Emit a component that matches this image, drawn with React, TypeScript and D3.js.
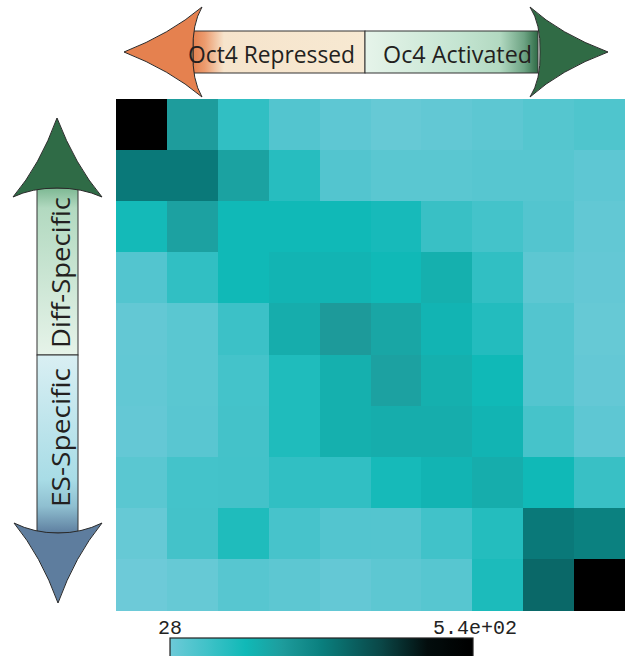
import React from "react";
import * as d3 from "d3";

// Heatmap of co-occupancy counts: rows run from Diff-specific (top) to ES-specific (bottom),
// columns from Oct4-repressed (left) to Oct4-activated (right).
const rowLabels = ["r0", "r1", "r2", "r3", "r4", "r5", "r6", "r7", "r8", "r9"];
const colLabels = ["c0", "c1", "c2", "c3", "c4", "c5", "c6", "c7", "c8", "c9"];

const values: number[][] = [
  [540, 217, 110, 64, 48, 38, 43, 50, 61, 69],
  [294, 294, 205, 125, 64, 54, 54, 58, 58, 48],
  [151, 207, 156, 156, 156, 146, 100, 84, 64, 43],
  [64, 110, 156, 166, 166, 156, 176, 110, 50, 40],
  [42, 54, 95, 182, 222, 197, 166, 130, 64, 38],
  [43, 54, 84, 136, 176, 207, 176, 156, 64, 40],
  [40, 56, 85, 136, 176, 182, 182, 166, 82, 48],
  [54, 84, 86, 110, 110, 148, 166, 182, 156, 100],
  [38, 85, 136, 80, 64, 62, 88, 128, 294, 280],
  [28, 38, 58, 50, 40, 50, 58, 140, 325, 540],
];

const colorMin = 28;
const colorMax = 540;
const colorMinLabel = "28";
const colorMaxLabel = "5.4e+02";

const topLeftLabel = "Oct4 Repressed";
const topRightLabel = "Oc4 Activated";
const sideTopLabel = "Diff-Specific";
const sideBottomLabel = "ES-Specific";

const W = 625;
const H = 656;

const grid = { x0: 116, x1: 625, y0: 99, y1: 610 };

export default function App() {
  const x = d3.scaleBand<string>().domain(colLabels).range([grid.x0, grid.x1]);
  const y = d3.scaleBand<string>().domain(rowLabels).range([grid.y0, grid.y1]);

  const t = (f: number) => colorMin + f * (colorMax - colorMin);
  const color = d3
    .scaleLinear<string>()
    .domain([t(0), t(0.25), t(0.37), t(0.5), t(0.7), t(0.85), t(1)])
    .range(["#6dcad8", "#10b9b7", "#1e9c9c", "#0a7f7e", "#0a4646", "#030d0d", "#000000"])
    .interpolate(d3.interpolateRgb)
    .clamp(true);

  const bar = { x0: 170, x1: 473, y0: 638, y1: 662 };
  const barStops = d3.range(0, 1.0001, 0.025).map((f) => ({
    offset: `${f * 100}%`,
    color: color(t(f)),
  }));

  // arrowhead paths (barbed, with concave sides)
  const leftHead = "M124,52 Q170,34 202,7 Q192,24 193,52 Q192,80 202,97 Q170,70 124,52 Z";
  const rightHead = "M608,52 Q560,34 530,7 Q541,24 540,52 Q541,80 530,97 Q560,70 608,52 Z";
  const upHead = "M57,118 Q40,165 13,197 Q32,188 57,188 Q82,188 102,197 Q75,165 57,118 Z";
  const downHead = "M58,603 Q41,556 14,523 Q34,533 58,533 Q82,533 102,523 Q75,556 58,603 Z";

  const headStroke = "#2a2a2a";

  return (
    <svg
      width={W}
      height={H}
      style={{ position: "absolute", left: 0, top: 0, background: "#fff" }}
      fontFamily="'Open Sans', 'Noto Sans', sans-serif"
    >
      <defs>
        <linearGradient id="gRepressed" x1="0" x2="1" y1="0" y2="0">
          <stop offset="0%" stopColor="#e4814f" />
          <stop offset="7%" stopColor="#ec9c6f" />
          <stop offset="18%" stopColor="#f6e4cc" />
          <stop offset="100%" stopColor="#f7e9d2" />
        </linearGradient>
        <linearGradient id="gActivated" x1="0" x2="1" y1="0" y2="0">
          <stop offset="0%" stopColor="#e6f4ea" />
          <stop offset="55%" stopColor="#c4e4d1" />
          <stop offset="78%" stopColor="#b2d9c1" />
          <stop offset="92%" stopColor="#6da383" />
          <stop offset="100%" stopColor="#2f6b46" />
        </linearGradient>
        <linearGradient id="gDiff" x1="0" x2="0" y1="0" y2="1">
          <stop offset="0%" stopColor="#7db893" />
          <stop offset="12%" stopColor="#b2d9c0" />
          <stop offset="100%" stopColor="#e6f3e9" />
        </linearGradient>
        <linearGradient id="gES" x1="0" x2="0" y1="0" y2="1">
          <stop offset="0%" stopColor="#d9eff3" />
          <stop offset="70%" stopColor="#a8dce6" />
          <stop offset="85%" stopColor="#8fbfd0" />
          <stop offset="100%" stopColor="#5e7fa0" />
        </linearGradient>
        <linearGradient id="gBar" x1="0" x2="1" y1="0" y2="0">
          {barStops.map((s) => (
            <stop key={s.offset} offset={s.offset} stopColor={s.color} />
          ))}
        </linearGradient>
      </defs>

      {/* heatmap cells */}
      <g shapeRendering="crispEdges">
        {values.map((row, i) =>
          row.map((v, j) => (
            <rect
              key={`${i}-${j}`}
              x={x(colLabels[j])}
              y={y(rowLabels[i])}
              width={x.bandwidth() + 0.5}
              height={y.bandwidth() + 0.5}
              fill={color(v)}
            />
          ))
        )}
      </g>

      {/* horizontal Oct4 arrow */}
      <g>
        <rect x={193} y={31} width={172} height={42} fill="url(#gRepressed)" stroke="#333" strokeWidth={1} />
        <rect x={365} y={31} width={173} height={42} fill="url(#gActivated)" stroke="#333" strokeWidth={1} />
        <path d={leftHead} fill="#e5814f" stroke={headStroke} strokeWidth={1} />
        <path d={rightHead} fill="#306b45" stroke={headStroke} strokeWidth={1} />
        <text x={188} y={63} fontSize={23} fill="#231f20" textLength={167} lengthAdjust="spacingAndGlyphs">
          {topLeftLabel}
        </text>
        <text x={383} y={63} fontSize={23} fill="#231f20" textLength={149} lengthAdjust="spacingAndGlyphs">
          {topRightLabel}
        </text>
      </g>

      {/* vertical specificity arrow */}
      <g>
        <rect x={37} y={188} width={41} height={167} fill="url(#gDiff)" stroke="#333" strokeWidth={1} />
        <rect x={37} y={355} width={41} height={178} fill="url(#gES)" stroke="#333" strokeWidth={1} />
        <path d={upHead} fill="#2f6b46" stroke={headStroke} strokeWidth={1} />
        <path d={downHead} fill="#5e7d9e" stroke={headStroke} strokeWidth={1} />
        <text
          transform="translate(70,348) rotate(-90)"
          fontSize={26}
          fill="#231f20"
          textLength={151}
          lengthAdjust="spacingAndGlyphs"
        >
          {sideTopLabel}
        </text>
        <text
          transform="translate(70,507) rotate(-90)"
          fontSize={26}
          fill="#231f20"
          textLength={139}
          lengthAdjust="spacingAndGlyphs"
        >
          {sideBottomLabel}
        </text>
      </g>

      {/* color bar */}
      <g>
        <rect
          x={bar.x0}
          y={bar.y0}
          width={bar.x1 - bar.x0}
          height={bar.y1 - bar.y0}
          fill="url(#gBar)"
          stroke="#222"
          strokeWidth={1.2}
        />
        <text
          x={158}
          y={634}
          fontSize={20}
          fontFamily="'Liberation Mono', 'DejaVu Sans Mono', monospace"
          fill="#222"
        >
          {colorMinLabel}
        </text>
        <text
          x={517}
          y={634}
          fontSize={20}
          textAnchor="end"
          fontFamily="'Liberation Mono', 'DejaVu Sans Mono', monospace"
          fill="#222"
        >
          {colorMaxLabel}
        </text>
      </g>
    </svg>
  );
}
